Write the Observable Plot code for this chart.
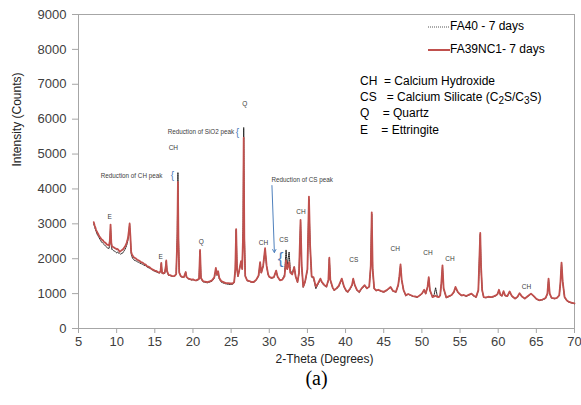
<!DOCTYPE html>
<html><head><meta charset="utf-8">
<script src="https://cdn.jsdelivr.net/npm/d3@7"></script>
<script src="https://cdn.jsdelivr.net/npm/@observablehq/plot@0.6"></script>
<style>
body{margin:0;background:#fff;font-family:"Liberation Sans",Arial,sans-serif;}
#wrap{position:relative;width:581px;height:405px;}
.ov{position:absolute;font-size:12px;color:#000;white-space:pre;line-height:12px;}
.ov svg{vertical-align:middle;}
</style></head><body><div id="wrap"></div>
<script>
const twoTheta = [7.0,7.1,7.2,7.3,7.4,7.5,7.6,7.7,7.8,7.9,8.0,8.1,8.2,8.3,8.4,8.5,8.6,8.7,8.8,8.9,9.0,9.1,9.2,9.3,9.4,9.5,9.6,9.7,9.8,9.9,
10.0,10.1,10.2,10.3,10.4,10.5,10.6,10.7,10.8,10.9,11.0,11.1,11.2,11.3,11.4,11.5,11.6,11.7,11.8,11.9,
12.0,12.1,12.2,12.3,12.4,12.5,12.6,12.7,12.8,12.9,13.0,13.2,13.4,13.6,13.8,14.0,14.2,14.4,14.6,14.8,
15.0,15.2,15.4,15.6,15.75,15.85,15.95,16.1,16.3,16.45,16.5,16.6,16.8,17.0,17.2,17.4,17.6,17.8,17.95,18.03,
18.1,18.2,18.4,18.6,18.8,18.95,19.05,19.15,19.4,19.6,19.8,20.0,20.2,20.4,20.6,20.8,20.93,21.05,21.3,21.6,
21.9,22.2,22.5,22.8,23.0,23.15,23.3,23.45,23.7,24.0,24.3,24.6,24.9,25.2,25.4,25.55,25.66,25.78,25.9,26.05,
26.3,26.45,26.58,26.65,26.73,26.85,27.1,27.4,27.7,28.0,28.3,28.6,28.8,28.95,29.2,29.45,29.65,29.85,30.0,30.3,
30.6,30.9,31.1,31.4,31.7,32.0,32.2,32.35,32.6,32.75,33.0,33.27,33.45,33.7,33.9,34.1,34.25,34.45,34.7,35.0,
35.2,35.35,35.55,35.8,36.1,36.4,36.7,36.9,37.2,37.5,37.75,37.87,38.0,38.3,38.5,38.8,39.1,39.5,39.8,40.1,
40.3,40.6,40.85,41.0,41.2,41.5,41.8,42.1,42.5,42.8,43.1,43.3,43.43,43.55,43.75,44.0,44.3,44.6,45.0,45.4,
45.9,46.2,46.6,46.9,47.05,47.2,47.35,47.6,47.9,48.2,48.5,48.8,49.1,49.4,49.7,50.0,50.3,50.5,50.75,50.9,
51.05,51.4,51.6,51.8,52.0,52.2,52.4,52.55,52.7,52.85,53.2,53.5,53.9,54.2,54.4,54.7,55.0,55.2,55.5,55.8,
56.2,56.5,56.8,57.1,57.4,57.55,57.65,57.75,57.9,58.1,58.4,58.7,59.1,59.4,59.7,59.9,60.1,60.3,60.5,60.7,
60.9,61.2,61.5,61.8,62.2,62.5,62.8,63.1,63.5,63.9,64.3,64.7,65.0,65.4,65.8,66.2,66.45,66.6,66.75,67.0,
67.4,67.7,68.0,68.15,68.3,68.45,68.7,69.0,69.3,69.6,70.0];

const fa39nc1 = [3050,2960,2900,2830,2780,2740,2700,2650,2620,2590,2560,2540,2530,2490,2470,2460,2440,2410,2400,2390,2380,2500,2980,2450,2350,2340,2330,2310,2300,2290,
2270,2280,2260,2230,2200,2220,2230,2250,2260,2290,2320,2350,2400,2450,2520,2620,2800,3010,2650,2200,
2120,2090,2050,2030,2020,2010,1990,1970,1960,1950,1940,1900,1890,1850,1830,1780,1770,1740,1700,1680,
1660,1650,1620,1600,1640,1880,1600,1580,1600,1800,1950,1650,1540,1530,1510,1500,1510,1560,2600,4200,
2500,1600,1500,1480,1470,1560,1620,1480,1430,1420,1400,1410,1390,1380,1400,1420,2250,1450,1360,1340,
1330,1350,1380,1470,1740,1550,1640,1450,1360,1330,1300,1300,1290,1290,1330,1700,2850,1700,1500,1650,
1930,1700,2800,5470,2600,1500,1380,1360,1330,1340,1400,1520,1900,1600,1800,2300,1800,1550,1480,1450,
1470,1660,1480,1380,1400,1500,1950,1700,1900,1600,1550,1760,1500,1330,1600,3110,1800,1200,1350,1700,
3780,2400,1500,1470,1200,1300,1430,1330,1250,1200,1400,2030,1400,1180,1100,1150,1220,1430,1200,1080,
1050,1150,1250,1430,1250,1100,1050,1150,1240,1150,1200,1800,3330,1700,1150,1090,1110,1080,1050,1100,
1190,1080,1050,1250,1500,1840,1400,1100,950,990,960,930,920,900,950,1000,1110,1000,1200,1470,
1100,900,920,940,910,900,950,1300,1810,1150,890,920,960,1050,1190,1050,980,950,960,930,
970,1000,940,900,1100,2100,2740,1800,1100,900,890,910,900,920,950,980,1110,960,940,1070,
950,930,1060,930,860,900,1010,920,860,930,1000,920,850,810,830,870,1000,1430,1000,880,
860,880,950,1300,1890,1350,900,800,760,740,720];

const fa40 = [3000,2920,2850,2790,2720,2680,2640,2600,2560,2530,2480,2470,2440,2420,2400,2370,2350,2330,2310,2300,2290,2420,2900,2360,2260,2250,2230,2220,2210,2180,
2170,2190,2160,2170,2150,2130,2150,2140,2170,2200,2230,2270,2320,2380,2450,2560,2760,2980,2600,2150,
2060,2010,1980,1960,1950,1940,1930,1920,1900,1900,1880,1860,1840,1810,1800,1760,1740,1720,1690,1660,
1640,1620,1600,1590,1620,1860,1580,1570,1580,1780,1930,1630,1520,1520,1500,1490,1500,1560,2750,4470,
2650,1620,1490,1470,1460,1550,1610,1470,1420,1410,1390,1400,1380,1370,1380,1410,2230,1440,1340,1320,
1310,1330,1360,1440,1700,1520,1600,1420,1330,1300,1280,1270,1260,1270,1310,1680,2830,1690,1490,1640,
1920,1720,3000,5760,2800,1520,1370,1350,1320,1320,1390,1500,1880,1590,1780,2260,1780,1540,1470,1440,
1460,1650,1470,1380,1400,1540,2250,1800,2190,1680,1560,1770,1500,1320,1580,3050,1780,1180,1330,1680,
3700,2350,1470,1440,1140,1270,1400,1310,1230,1190,1380,2000,1380,1160,1090,1130,1200,1410,1190,1060,
1040,1130,1230,1410,1240,1090,1030,1140,1220,1140,1190,1780,3280,1680,1140,1080,1100,1070,1040,1090,
1180,1070,1040,1240,1480,1810,1390,1090,940,980,950,920,910,890,940,990,1100,990,1190,1440,
1090,900,960,1170,950,890,940,1280,1780,1140,880,910,950,1040,1170,1040,970,940,950,920,
960,990,930,890,1090,2080,2700,1780,1090,890,880,900,890,910,940,970,1100,950,930,1060,
940,920,1050,920,850,890,1000,910,850,920,990,910,840,800,820,860,990,1410,990,870,
850,870,940,1280,1870,1340,890,790,750,730,710];

const xTicks = [5,10,15,20,25,30,35,40,45,50,55,60,65,70];
const yTicks = [0,1000,2000,3000,4000,5000,6000,7000,8000,9000];

const peakLabels = ["E","E","Q","CH","Q","CH","CS","CH","CS","CH","CH","CH","CH"];
const peakX = [9.08,15.77,21.1,17.43,26.8,29.25,31.9,34.15,41.07,46.5,50.8,53.68,63.7];
const peakY = [3189,2046,2474,5171,6446,2457,2543,3331,1980,2286,2171,2000,1189];

const noteTexts = ["Reduction of SiO2 peak","Reduction of CH peak","Reduction of CS peak"];
const noteX = [25.4,15.99,30.3];
const noteY = [5620,4360,4257];
const noteAnchor = ["end","end","start"];

const braceX = [25.84,17.3,31.5];
const braceY = [5617,4389,2017];
const braceSize = [10,10,17];

const arrowX1 = [30.35], arrowY1 = [4097], arrowX2 = [30.67], arrowY2 = [2180];

const seriesNames = ["FA40 - 7 days","FA39NC1- 7 days"];
const defKeys = ["CH  ","CS   ","Q    ","E    "];
const defTexts = ["= Calcium Hydroxide","= Calcium Silicate (C<sub>2</sub>S/C<sub>3</sub>S)","= Quartz","= Ettringite"];

const data = twoTheta.map((x, i) => ({x, fa40: fa40[i], fa39: fa39nc1[i]}));
const peaks = peakLabels.map((t, i) => ({t, x: peakX[i], y: peakY[i]}));
const notes = noteTexts.map((t, i) => ({t, x: noteX[i], y: noteY[i], a: noteAnchor[i]}));
const braces = braceX.map((x, i) => ({x, y: braceY[i], s: braceSize[i]}));
const arrows = arrowX1.map((x1, i) => ({x1, y1: arrowY1[i], x2: arrowX2[i], y2: arrowY2[i]}));

const F = "Liberation Sans, Arial, sans-serif";
const chart = Plot.plot({
  width: 581, height: 405,
  marginTop: 14, marginRight: 7, marginBottom: 77, marginLeft: 78,
  style: {fontFamily: F, fontSize: "13px", color: "#404040", background: "#fff"},
  x: {domain: [5, 70]},
  y: {domain: [0, 9000]},
  marks: [
    Plot.frame({stroke: "#a6a6a6"}),
    Plot.axisX({ticks: xTicks, tickSize: 5, tickPadding: 3, stroke: "#a6a6a6", fill: "#404040", label: null, tickFormat: d => String(d)}),
    Plot.axisY({ticks: yTicks, tickSize: 6, tickPadding: 6, stroke: "#a6a6a6", fill: "#404040", label: null, tickFormat: d => String(d)}),
    Plot.line(data, {x: "x", y: "fa40", stroke: "#222", strokeWidth: 1, strokeDasharray: "1.2,1"}),
    Plot.line(data, {x: "x", y: "fa39", stroke: "#c0504d", strokeWidth: 1.8}),
    Plot.text(peaks, {x: "x", y: "y", text: "t", fontSize: 6.5, fill: "#404040"}),
    Plot.text(notes.filter(d => d.a === "end"), {x: "x", y: "y", text: "t", fontSize: 6.3, fill: "#404040", textAnchor: "end"}),
    Plot.text(notes.filter(d => d.a === "start"), {x: "x", y: "y", text: "t", fontSize: 6.3, fill: "#404040", textAnchor: "start"}),
    Plot.text(braces.filter(d => d.s < 15), {x: "x", y: "y", text: () => "{", fontSize: 10, fill: "#4f81bd"}),
    Plot.text(braces.filter(d => d.s >= 15), {x: "x", y: "y", text: () => "{", fontSize: 17, fill: "#4f81bd"}),
    Plot.arrow(arrows, {x1: "x1", y1: "y1", x2: "x2", y2: "y2", stroke: "#4f81bd", strokeWidth: 1, headLength: 5}),
    Plot.text(["2-Theta (Degrees)"], {frameAnchor: "bottom", dy: 34, dx: -2, fontSize: 12, fill: "#222"}),
    Plot.text(["Intensity (Counts)"], {frameAnchor: "left", dx: -61, dy: -5, rotate: -90, fontSize: 12, fill: "#222"}),
    Plot.text(["(a)"], {frameAnchor: "bottom", dy: 56, dx: -10, fontSize: 20, fontFamily: "Liberation Serif, Times New Roman, serif", fill: "#000"})
  ]
});
const wrap = document.getElementById("wrap");
wrap.appendChild(chart);

// legend (inside plot area, top right)
const legStyles = [
  {dash: "1,1", color: "#555", w: 1},
  {dash: null, color: "#c0504d", w: 2}
];
const legTops = [20, 43];
seriesNames.forEach((name, i) => {
  const d = document.createElement("div");
  d.className = "ov";
  d.style.left = "428px";
  d.style.top = legTops[i] + "px";
  const s = legStyles[i];
  d.innerHTML = `<svg width="22" height="12"><line x1="0" x2="22" y1="6" y2="6" stroke="${s.color}" stroke-width="${s.w}" ${s.dash ? `stroke-dasharray="${s.dash}"` : ""}/></svg>` + name;
  wrap.appendChild(d);
});
const defTops = [75, 91, 107, 124];
defKeys.forEach((k, i) => {
  const d = document.createElement("div");
  d.className = "ov";
  d.style.left = "360px";
  d.style.top = defTops[i] + "px";
  d.innerHTML = k + defTexts[i];
  wrap.appendChild(d);
});
</script></body></html>
